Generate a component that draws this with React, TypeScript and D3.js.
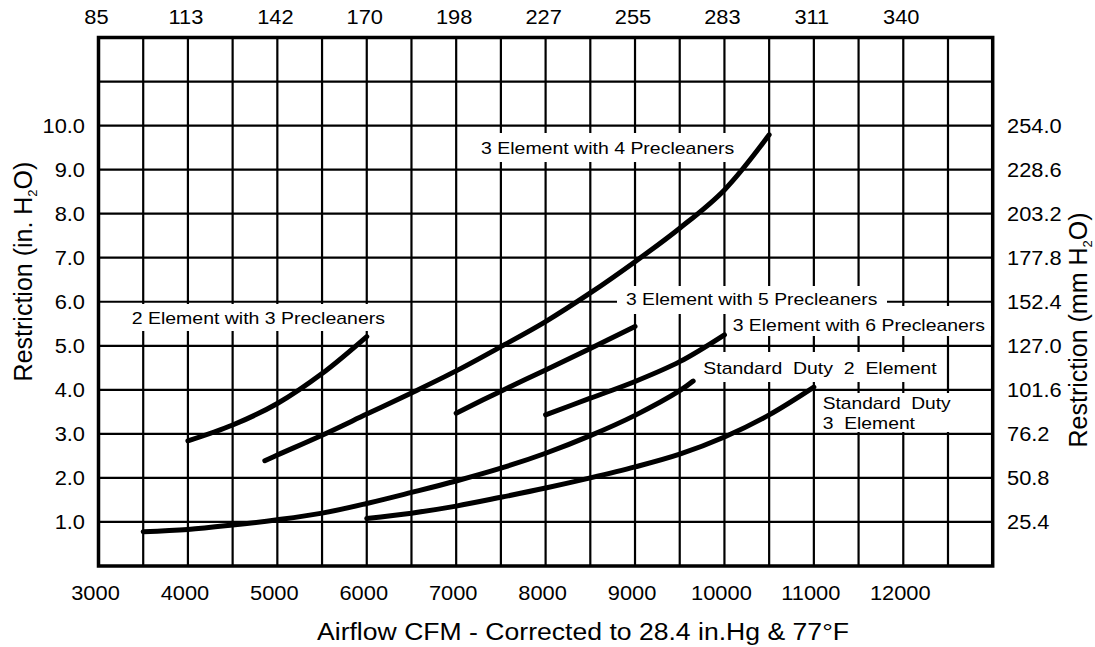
import React from "react";
import * as d3 from "d3";

// ---- Data ----
const xTicks = [3000, 4000, 5000, 6000, 7000, 8000, 9000, 10000, 11000, 12000];
const topTickLabels = ["85", "113", "142", "170", "198", "227", "255", "283", "311", "340"];
const yTicks = [1, 2, 3, 4, 5, 6, 7, 8, 9, 10];
const rightTickLabels = ["25.4", "50.8", "76.2", "101.6", "127.0", "152.4", "177.8", "203.2", "228.6", "254.0"];

const sd2Cfm = [3500, 4000, 4500, 5000, 5500, 6000, 6500, 7000, 7500, 8000, 8500, 9000, 9500, 9650];
const sd2Res = [0.78, 0.83, 0.93, 1.05, 1.2, 1.42, 1.67, 1.93, 2.22, 2.56, 2.96, 3.42, 3.98, 4.2];

const sd3Cfm = [6000, 6500, 7000, 7500, 8000, 8500, 9000, 9500, 10000, 10500, 11000];
const sd3Res = [1.08, 1.2, 1.36, 1.56, 1.77, 2.0, 2.25, 2.54, 2.93, 3.43, 4.06];

const p6Cfm = [8000, 8500, 9000, 9500, 10000];
const p6Res = [3.43, 3.81, 4.19, 4.64, 5.25];

const p5Cfm = [7000, 7500, 8000, 8500, 9000];
const p5Res = [3.47, 3.97, 4.45, 4.94, 5.44];

const p4Cfm = [4860, 5000, 5500, 6000, 6500, 7000, 7500, 8000, 8500, 9000, 9500, 10000, 10500];
const p4Res = [2.39, 2.52, 2.97, 3.45, 3.93, 4.43, 4.98, 5.55, 6.2, 6.91, 7.67, 8.54, 9.79];

const e2p3Cfm = [4000, 4500, 5000, 5500, 6000];
const e2p3Res = [2.84, 3.2, 3.69, 4.37, 5.21];

const seriesList = [
  { cfm: sd2Cfm, res: sd2Res },
  { cfm: sd3Cfm, res: sd3Res },
  { cfm: p6Cfm, res: p6Res },
  { cfm: p5Cfm, res: p5Res },
  { cfm: p4Cfm, res: p4Res },
  { cfm: e2p3Cfm, res: e2p3Res },
];

const labelTexts = [
  ["2 Element with 3 Precleaners"],
  ["3 Element with 4 Precleaners"],
  ["3 Element with 5 Precleaners"],
  ["3 Element with 6 Precleaners"],
  ["Standard  Duty  2  Element"],
  ["Standard  Duty", "3  Element"],
];

const W = 1095;
const H = 647;
const FONT = "'Liberation Sans', Arial, Helvetica, sans-serif";

const x = d3.scaleLinear().domain([3000, 13000]).range([98.5, 992.7]);
const y = d3.scaleLinear().domain([0, 12]).range([566, 37.5]);

// label layout (pixels): text left, baselines, text widths, white box
const labelLayout = [
  { tx: 131.7, by: [323.5], tw: [253.3], box: [125, 304, 394, 331] },
  { tx: 481, by: [154.3], tw: [253.3], box: [470, 133, 745, 162] },
  { tx: 626, by: [305], tw: [251.3], box: [617, 286, 887, 314] },
  { tx: 732.7, by: [330.7], tw: [252.3], box: [727, 306, 991, 336] },
  { tx: 703.3, by: [374.3], tw: [233.4], box: [697, 352, 943, 382] },
  { tx: 822.7, by: [409.3, 429], tw: [128, 92.3], box: [817, 393, 958, 432] },
];

const SX = 1.12;

function STxt({ px, py, anchor, size, children }: any) {
  return (
    <text
      transform={`translate(${px},${py}) scale(${SX},1)`}
      textAnchor={anchor}
      fontSize={size}
      fontFamily={FONT}
      fill="#000"
    >
      {children}
    </text>
  );
}

export default function App() {
  const line = d3
    .line<[number, number]>()
    .x((d) => x(d[0]))
    .y((d) => y(d[1]))
    .curve(d3.curveCatmullRom.alpha(0.5));

  const vGrid = d3.range(3000, 13001, 500);
  const hGrid = d3.range(0, 13, 1);

  return (
    <svg
      width={W}
      height={H}
      style={{ position: "absolute", left: 0, top: 0, background: "#fff" }}
    >
      <rect x={0} y={0} width={W} height={H} fill="#fff" />
      {/* grid */}
      <g stroke="#000" strokeWidth={2.2}>
        {vGrid.map((v) => (
          <line key={"v" + v} x1={x(v)} x2={x(v)} y1={y(12)} y2={y(0)} />
        ))}
        {hGrid.map((v) => (
          <line key={"h" + v} x1={x(3000)} x2={x(13000)} y1={y(v)} y2={y(v)} />
        ))}
      </g>
      <rect
        x={x(3000)}
        y={y(12)}
        width={x(13000) - x(3000)}
        height={y(0) - y(12)}
        fill="none"
        stroke="#000"
        strokeWidth={3.5}
      />

      {/* label boxes */}
      {labelLayout.map((l, i) => (
        <rect
          key={"b" + i}
          x={l.box[0]}
          y={l.box[1]}
          width={l.box[2] - l.box[0]}
          height={l.box[3] - l.box[1]}
          fill="#fff"
        />
      ))}
      {labelTexts.map((lines, i) =>
        lines.map((t, j) => (
          <text
            key={"t" + i + "_" + j}
            x={labelLayout[i].tx}
            y={labelLayout[i].by[j]}
            fontSize={17}
            fontFamily={FONT}
            textLength={labelLayout[i].tw[j]}
            lengthAdjust="spacingAndGlyphs"
            style={{ whiteSpace: "pre" }}
            fill="#000"
          >
            {t}
          </text>
        ))
      )}

      {/* curves */}
      <g fill="none" stroke="#000" strokeWidth={5} strokeLinecap="round" strokeLinejoin="round">
        {seriesList.map((s, i) => (
          <path key={"c" + i} d={line(s.cfm.map((c, k) => [c, s.res[k]] as [number, number])) || ""} />
        ))}
      </g>

      {/* bottom ticks */}
      {xTicks.map((v) => (
        <STxt key={"bx" + v} px={x(v) - 3} py={600} anchor="middle" size={19.5}>
          {String(v)}
        </STxt>
      ))}
      {/* top ticks */}
      {xTicks.map((v, i) => (
        <STxt key={"tx" + v} px={x(v) - 2} py={24} anchor="middle" size={19.5}>
          {topTickLabels[i]}
        </STxt>
      ))}
      {/* left ticks */}
      {yTicks.map((v) => (
        <STxt key={"ly" + v} px={85} py={y(v) + 7} anchor="end" size={19.5}>
          {v.toFixed(1)}
        </STxt>
      ))}
      {/* right ticks */}
      {yTicks.map((v, i) => (
        <STxt key={"ry" + v} px={1007} py={y(v) + 7} anchor="start" size={19.5}>
          {rightTickLabels[i]}
        </STxt>
      ))}

      {/* axis titles */}
      <text
        x={583}
        y={640}
        textAnchor="middle"
        fontSize={23}
        fontFamily={FONT}
        textLength={532}
        lengthAdjust="spacingAndGlyphs"
        fill="#000"
      >
        Airflow CFM - Corrected to 28.4 in.Hg &amp; 77°F
      </text>
      <text
        transform={`translate(32,271.5) rotate(-90)`}
        textAnchor="middle"
        fontSize={25}
        fontFamily={FONT}
        fill="#000"
      >
        Restriction (in. H
        <tspan fontSize={13} dy={5}>2</tspan>
        <tspan dy={-5}>O)</tspan>
      </text>
      <text
        transform={`translate(1087,330) rotate(-90)`}
        textAnchor="middle"
        fontSize={25}
        fontFamily={FONT}
        fill="#000"
      >
        Restriction (mm H
        <tspan fontSize={13} dy={5}>2</tspan>
        <tspan dy={-5}>O)</tspan>
      </text>
    </svg>
  );
}
